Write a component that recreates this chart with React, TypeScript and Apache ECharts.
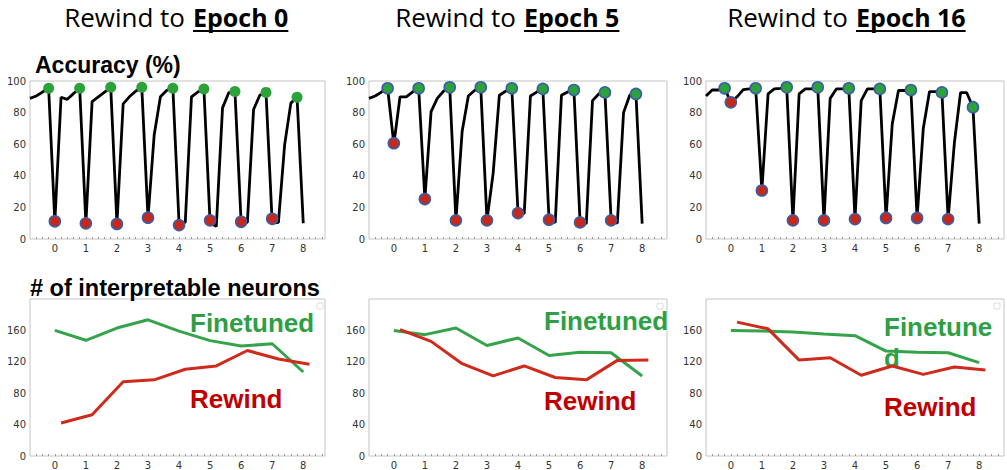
import React, { useEffect, useRef } from "react";
import * as echarts from "echarts";

// Training-curve sample positions: rounds are sampled every 0.2 from -0.8 to 8.0
const SAMPLE_COUNT = 45;
const sampleX: number[] = Array.from({ length: SAMPLE_COUNT }, (_, i) => Math.round((-0.8 + 0.2 * i) * 10) / 10);

const roundLabels = [0, 1, 2, 3, 4, 5, 6, 7, 8];
const rewindTitles = ["Epoch 0", "Epoch 5", "Epoch 16"];

// Accuracy (%) along training, one array per rewind setting
const accEpoch0 = [
  89, 90.5, 93, 95.4,
  11, 89.7, 88.4, 92, 95.4,
  9.7, 87, 90, 93, 96,
  9.7, 85.5, 90, 93.5, 96,
  13.3, 66, 90, 94, 96,
  10, 10.5, 90, 93, 95,
  10, 8, 83, 92.6, 93.3,
  10, 10.5, 82, 91, 92.8,
  10, 10.5, 59.6, 86, 89.7,
  10,
];
const accEpoch5 = [
  89, 90.5, 93, 95.4,
  60, 90, 90, 93, 95.4,
  25.3, 80.6, 89, 93.5, 96,
  11.8, 68, 90.5, 94, 96,
  11.8, 41.7, 91, 93.5, 95.4,
  16.8, 16, 90.5, 93, 95,
  12.2, 10.5, 91, 93, 94.7,
  10.5, 9.7, 87.6, 91.8, 92.8,
  11.8, 10, 80, 91, 91.8,
  9.7,
];
const accEpoch16 = [
  90.5, 94.3, 94.3, 95.4,
  86.5, 90, 94.5, 95, 95.4,
  30.7, 91.8, 95, 95.4, 96,
  11.8, 91.8, 95, 95, 96,
  11.8, 89, 95, 95, 95.4,
  12.6, 87.6, 95, 95, 95,
  13.3, 72.8, 94, 94, 94.3,
  13.3, 70, 93.3, 93.3, 92.8,
  12.6, 60.6, 92.6, 92.6, 83.4,
  9.7,
];

// Accuracy right after rewinding (rounds 0..7) and at the end of each round (-0.2..7.8)
const rewoundEpoch0 = [11.2, 9.9, 9.5, 13.5, 8.8, 11.8, 10.9, 12.8];
const rewoundEpoch5 = [60.6, 25.3, 11.8, 11.8, 16.4, 12.2, 10.5, 11.8];
const rewoundEpoch16 = [86.5, 30.7, 11.8, 11.8, 12.6, 13.3, 13.3, 12.6];
const trainedEpoch0 = [95.4, 95.4, 96, 96, 95.4, 95, 93.3, 92.8, 89.7];
const trainedEpoch5 = [95.4, 95.4, 96, 96, 95.4, 95, 94.3, 92.8, 91.8];
const trainedEpoch16 = [95.4, 95.4, 96, 96, 95.4, 95, 94.3, 92.8, 83.4];

// Number of interpretable neurons per round
const finetunedEpoch0 = [160, 147.4, 163, 173.5, 159, 147, 140, 143, 107];
const rewindEpoch0 = [42, 52.5, 94.5, 97, 110.5, 114.7, 134.4, 123.5, 117];
const finetunedEpoch5 = [160, 154.6, 163, 140.7, 150.4, 128, 132.3, 131.5, 102];
const rewindEpoch5 = [161, 146, 117.6, 102, 114.7, 100, 97, 121.8, 122.2];
const finetunedEpoch16 = [160, 159.2, 158, 155.4, 153.3, 133.6, 132.3, 131.5, 118.9];
const rewindEpoch16 = [170.5, 162, 122.2, 125.2, 102.9, 114.7, 104, 113.4, 109.6];

const accPanels = [
  { acc: accEpoch0, rewound: rewoundEpoch0, trained: trainedEpoch0, greenEdge: false },
  { acc: accEpoch5, rewound: rewoundEpoch5, trained: trainedEpoch5, greenEdge: true },
  { acc: accEpoch16, rewound: rewoundEpoch16, trained: trainedEpoch16, greenEdge: true },
];
const neuronPanels = [
  { fin: finetunedEpoch0, rew: rewindEpoch0 },
  { fin: finetunedEpoch5, rew: rewindEpoch5 },
  { fin: finetunedEpoch16, rew: rewindEpoch16 },
];

const PANEL_LEFT = [30, 369, 706];
const PANEL_WIDTH = [295, 298, 298];
const X_MAX = [8.7, 8.8, 8.8];
const TOP_Y = 81;
const TOP_H = 158;
const BOT_Y = 299;
const BOT_H = 159;

const GREEN_LINE = "#35a349";
const RED_LINE = "#cf2b1c";
const GREEN_TEXT = "#2f9f45";
const RED_TEXT = "#c00000";
const MARK_GREEN = "#2ca33a";
const MARK_RED = "#c8281a";
const MARK_EDGE = "#3a5ea8";

const TICK_FONT = "DejaVu Sans";
const TITLE_FONT = "Open Sans";
const BOLD_FONT = "Liberation Sans";

function measure(text: string, font: string): number {
  const c = document.createElement("canvas");
  const ctx = c.getContext("2d");
  if (!ctx) return text.length * 13;
  ctx.font = font;
  return ctx.measureText(text).width;
}

export default function App() {
  const ref = useRef<HTMLDivElement>(null);

  useEffect(() => {
    if (!ref.current) return;
    const chart = echarts.init(ref.current, undefined, { renderer: "svg" });

    const minorTicks: number[] = [];
    for (let i = -3; i <= 43; i++) minorTicks.push(Math.round(i * 2) / 10);

    const grids: any[] = [];
    const xAxes: any[] = [];
    const yAxes: any[] = [];
    const series: any[] = [];

    const makeX = (idx: number) => ({
      type: "value",
      gridIndex: idx,
      min: -0.8,
      max: X_MAX[idx % 3],
      axisLine: { show: false },
      splitLine: { show: false },
      axisTick: {
        show: true,
        inside: true,
        length: 2,
        customValues: minorTicks.filter((v) => v < X_MAX[idx % 3]),
        lineStyle: { color: "#9a9a9a", width: 1 },
      },
      axisLabel: {
        customValues: roundLabels,
        fontSize: 10,
        fontFamily: TICK_FONT,
        color: "#333",
        margin: 4,
      },
    });

    for (let row = 0; row < 2; row++) {
      for (let p = 0; p < 3; p++) {
        grids.push({
          left: PANEL_LEFT[p],
          top: row === 0 ? TOP_Y : BOT_Y,
          width: PANEL_WIDTH[p],
          height: row === 0 ? TOP_H : BOT_H,
          show: true,
          borderColor: "#c4c4c4",
          borderWidth: 1,
          backgroundColor: "transparent",
        });
      }
    }

    for (let g = 0; g < 6; g++) {
      xAxes.push(makeX(g));
      const top = g < 3;
      yAxes.push({
        type: "value",
        gridIndex: g,
        min: 0,
        max: top ? 100 : 200,
        interval: top ? 20 : 40,
        axisLine: { show: false },
        axisTick: { show: false },
        splitLine: { show: false },
        axisLabel: {
          fontSize: 10,
          fontFamily: TICK_FONT,
          color: "#333",
          margin: 4,
          showMaxLabel: top ? true : false,
        },
      });
    }

    accPanels.forEach((panel, p) => {
      series.push({
        type: "line",
        xAxisIndex: p,
        yAxisIndex: p,
        data: sampleX.map((x, j) => [x, panel.acc[j]]),
        symbol: "none",
        lineStyle: { color: "#000", width: 2.8 },
        z: 2,
      });
      series.push({
        type: "scatter",
        xAxisIndex: p,
        yAxisIndex: p,
        data: panel.trained.map((v, k) => [k - 0.2, v]),
        symbolSize: 11,
        itemStyle: {
          color: MARK_GREEN,
          borderColor: panel.greenEdge ? MARK_EDGE : MARK_GREEN,
          borderWidth: panel.greenEdge ? 1.6 : 0,
          opacity: 1,
        },
        z: 3,
      });
      series.push({
        type: "scatter",
        xAxisIndex: p,
        yAxisIndex: p,
        data: panel.rewound.map((v, k) => [k, v]),
        symbolSize: 11,
        itemStyle: { color: MARK_RED, borderColor: MARK_EDGE, borderWidth: 1.6, opacity: 1 },
        z: 3,
      });
    });

    neuronPanels.forEach((panel, p) => {
      const g = p + 3;
      series.push({
        type: "line",
        xAxisIndex: g,
        yAxisIndex: g,
        data: panel.fin.map((v, k) => [roundLabels[k], v]),
        symbol: "none",
        lineStyle: { color: GREEN_LINE, width: 3 },
        z: 2,
      });
      series.push({
        type: "line",
        xAxisIndex: g,
        yAxisIndex: g,
        data: panel.rew.map((v, k) => [roundLabels[k] + 0.2, v]),
        symbol: "none",
        lineStyle: { color: RED_LINE, width: 3 },
        z: 2,
      });
    });

    // Headings: "Rewind to" + bold, underlined epoch
    const boldLeft = [193, 524, 856];
    const graphic: any[] = [];
    const regularSize = 26;
    const boldSize = 25;
    rewindTitles.forEach((t, p) => {
      graphic.push({
        type: "text",
        x: boldLeft[p] - 8,
        y: 17,
        style: {
          text: "Rewind to",
          fontSize: regularSize,
          fontFamily: TITLE_FONT,
          fill: "#000",
          textAlign: "right",
          textVerticalAlign: "middle",
        },
      });
      graphic.push({
        type: "text",
        x: boldLeft[p],
        y: 17,
        style: {
          text: t,
          fontSize: boldSize,
          fontWeight: "bold",
          fontFamily: TITLE_FONT,
          fill: "#000",
          textAlign: "left",
          textVerticalAlign: "middle",
        },
      });
      const w = measure(t, `bold ${boldSize}px "${TITLE_FONT}"`);
      graphic.push({
        type: "line",
        shape: { x1: boldLeft[p], y1: 31, x2: boldLeft[p] + w, y2: 31 },
        style: { stroke: "#000", lineWidth: 2 },
      });
    });

    graphic.push({
      type: "text",
      x: 35,
      y: 65,
      style: {
        text: "Accuracy (%)",
        fontSize: 23,
        fontWeight: "bold",
        fontFamily: BOLD_FONT,
        fill: "#000",
        textAlign: "left",
        textVerticalAlign: "middle",
      },
    });
    graphic.push({
      type: "text",
      x: 30,
      y: 288,
      style: {
        text: "# of interpretable neurons",
        fontSize: 23.5,
        fontWeight: "bold",
        fontFamily: BOLD_FONT,
        fill: "#000",
        textAlign: "left",
        textVerticalAlign: "middle",
      },
    });

    // In-plot series names
    const seriesNames = [
      { fin: "Finetuned", x: 190, finY: 322.5, rewY: 398.5 },
      { fin: "Finetuned", x: 544, finY: 321, rewY: 401 },
      { fin: "Finetune\nd", x: 884, finY: 342, rewY: 406.5 },
    ];
    seriesNames.forEach((s) => {
      graphic.push({
        type: "text",
        x: s.x,
        y: s.finY,
        style: {
          text: s.fin,
          fontSize: 26,
          lineHeight: 31,
          fontWeight: "bold",
          fontFamily: BOLD_FONT,
          fill: GREEN_TEXT,
          textAlign: "left",
          textVerticalAlign: "middle",
        },
      });
      graphic.push({
        type: "text",
        x: s.x,
        y: s.rewY,
        style: {
          text: "Rewind",
          fontSize: 26,
          fontWeight: "bold",
          fontFamily: BOLD_FONT,
          fill: RED_TEXT,
          textAlign: "left",
          textVerticalAlign: "middle",
        },
      });
    });

    // Empty legend frames in the lower panels
    [317, 657, 994].forEach((x) => {
      graphic.push({
        type: "rect",
        shape: { x, y: 303, width: 6, height: 6, r: 1 },
        style: { fill: "#fff", stroke: "#dcdcdc", lineWidth: 1 },
      });
    });

    chart.setOption({
      animation: false,
      backgroundColor: "#fff",
      grid: grids,
      xAxis: xAxes,
      yAxis: yAxes,
      series,
      graphic,
    });

    return () => chart.dispose();
  }, []);

  return (
    <div
      ref={ref}
      style={{ position: "absolute", left: 0, top: 0, width: 1007, height: 470 }}
    />
  );
}
